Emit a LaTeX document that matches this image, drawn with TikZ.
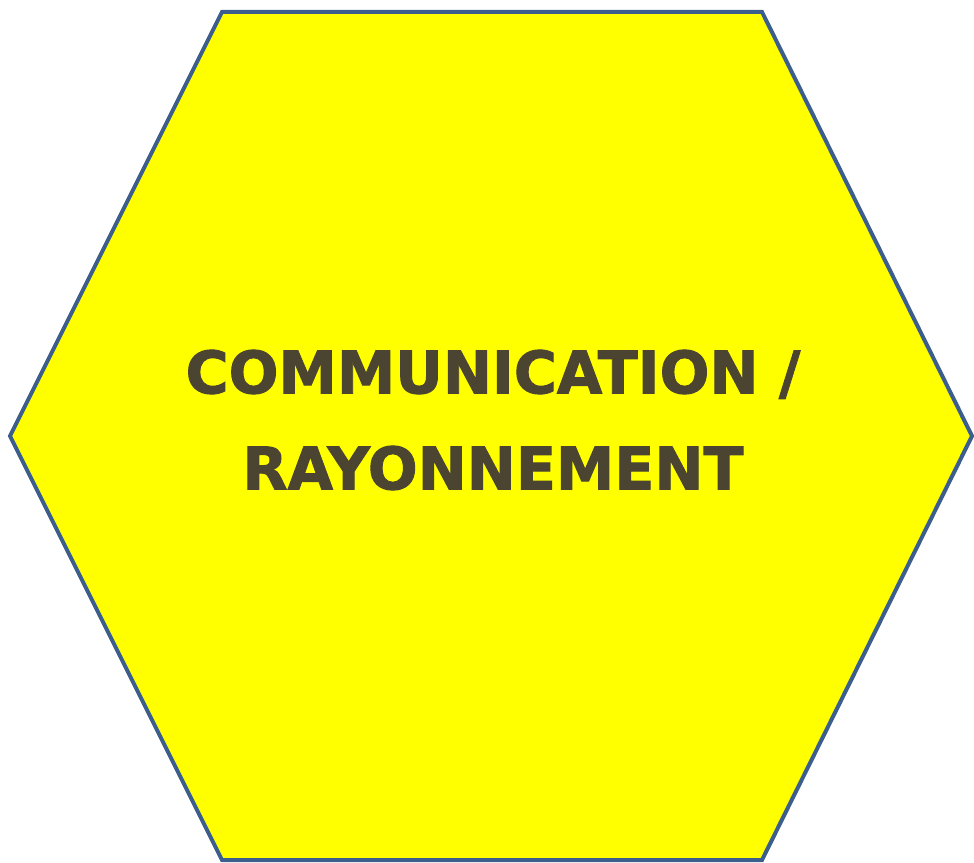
\documentclass[tikz,border=0pt]{standalone}
\usepackage{fontspec}
\setmainfont{DejaVu Sans}
\newfontfamily\hexfont{DejaVu Sans}[BoldFeatures={FakeBold=1.6}]

\definecolor{hexfill}{HTML}{FFFF00}
\definecolor{hexline}{HTML}{3B5E8C}
\definecolor{hextext}{HTML}{4A4430}

\begin{document}
\begin{tikzpicture}[x=0.75pt,y=-0.75pt]

    % パラメータの定義
    \pgfmathsetmacro{\W}{974}
    \pgfmathsetmacro{\H}{863}
    \pgfmathsetmacro{\xl}{10}
    \pgfmathsetmacro{\xa}{222}
    \pgfmathsetmacro{\xb}{762}
    \pgfmathsetmacro{\xr}{972}
    \pgfmathsetmacro{\yt}{12}
    \pgfmathsetmacro{\ym}{436}
    \pgfmathsetmacro{\yb}{860}

    \useasboundingbox (0,0) rectangle (\W,\H);

    \coordinate (TL) at (\xa,\yt);
    \coordinate (TR) at (\xb,\yt);
    \coordinate (R) at (\xr,\ym);
    \coordinate (BR) at (\xb,\yb);
    \coordinate (BL) at (\xa,\yb);
    \coordinate (L) at (\xl,\ym);

    % 六角形を描画
    \draw[line width=3pt,line join=miter,color=hexline,fill=hexfill]
        (TL) -- (TR) -- (R) -- (BR) -- (BL) -- (L) -- cycle;

    % 文字の描画
    \node[text=hextext,font=\hexfont\fontsize{44}{72}\selectfont\bfseries,
          align=center] (label) at (493,420)
        {COMMUNICATION /\\RAYONNEMENT};

\end{tikzpicture}
\end{document}
